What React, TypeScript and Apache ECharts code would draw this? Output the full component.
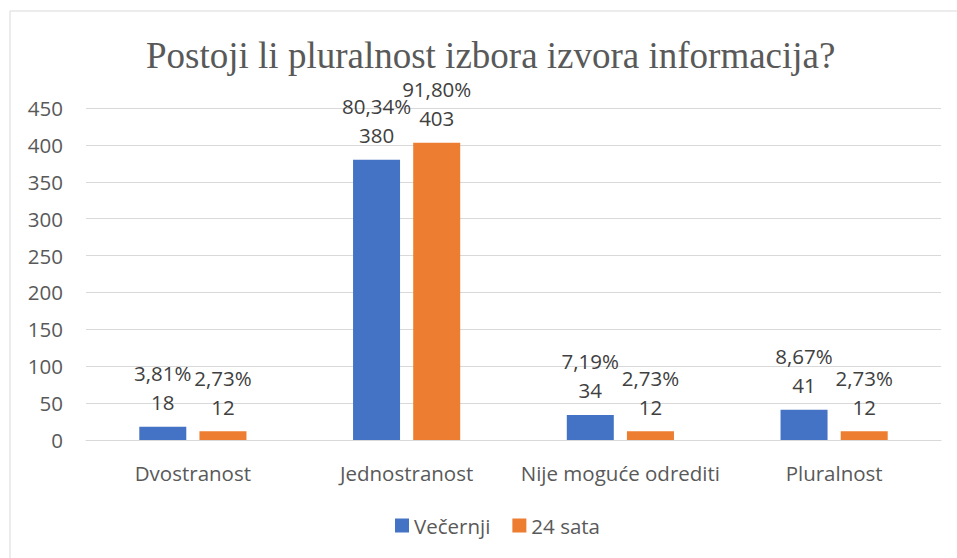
import React, { useEffect, useRef } from "react";
import * as echarts from "echarts";

const categories = ["Dvostranost", "Jednostranost", "Nije moguće odrediti", "Pluralnost"];
const seriesNames = ["Večernji", "24 sata"];
const vecernjiValues = [18, 380, 34, 41];
const sataValues = [12, 403, 12, 12];
const vecernjiPercents = ["3,81%", "80,34%", "7,19%", "8,67%"];
const sataPercents = ["2,73%", "91,80%", "2,73%", "2,73%"];
const titleText = "Postoji li pluralnost izbora izvora informacija?";

const FONT = "'Open Sans', sans-serif";
const FS = 20.5;

export default function App() {
  const ref = useRef<HTMLDivElement>(null);
  useEffect(() => {
    document.body.style.margin = "0";
    if (!ref.current) return;
    const chart = echarts.init(ref.current, null, { renderer: "svg" });
    const labelFor = (pcts: string[]) => ({
      show: true,
      position: "top" as const,
      distance: 10,
      color: "#404040",
      fontFamily: FONT,
      fontSize: FS,
      lineHeight: 29,
      formatter: (p: any) => `${pcts[p.dataIndex]}\n${p.value}`,
    });
    chart.setOption({
      animation: false,
      backgroundColor: "#ffffff",
      title: {
        text: titleText,
        left: 141,
        top: 32,
        textStyle: {
          fontFamily: "'Liberation Serif', 'Times New Roman', serif",
          fontSize: 37,
          fontWeight: "normal",
          color: "#595959",
        },
      },
      graphic: [
        {
          type: "rect",
          shape: { x: 10, y: 11, width: 980, height: 600 },
          style: { fill: "none", stroke: "#d9d9d9", lineWidth: 1 },
          silent: true,
        },
      ],
      legend: {
        data: seriesNames,
        bottom: 17,
        left: 390,
        icon: "rect",
        itemWidth: 14,
        itemHeight: 14,
        itemGap: 22,
        textStyle: { fontFamily: FONT, fontSize: FS, color: "#595959" },
      },
      grid: { left: 86, right: 16, top: 108, bottom: 118 },
      xAxis: {
        type: "category",
        data: categories,
        axisTick: { show: false },
        axisLine: { lineStyle: { color: "#d9d9d9", width: 1 } },
        axisLabel: {
          interval: 0,
          fontFamily: FONT,
          fontSize: FS,
          lineHeight: 24,
          color: "#595959",
          margin: 21,
        },
      },
      yAxis: {
        type: "value",
        min: 0,
        max: 450,
        interval: 50,
        axisLine: { show: false },
        axisTick: { show: false },
        splitLine: { lineStyle: { color: "#d9d9d9", width: 1 } },
        axisLabel: {
          fontFamily: FONT,
          fontSize: FS,
          color: "#595959",
          margin: 23,
        },
      },
      series: [
        {
          name: seriesNames[0],
          type: "bar",
          data: vecernjiValues,
          barWidth: 47,
          barGap: "28%",
          itemStyle: { color: "#4472C4" },
          label: labelFor(vecernjiPercents),
        },
        {
          name: seriesNames[1],
          type: "bar",
          data: sataValues,
          barWidth: 47,
          barGap: "28%",
          itemStyle: { color: "#ED7D31" },
          label: labelFor(sataPercents),
        },
      ],
    });
    return () => chart.dispose();
  }, []);
  return <div ref={ref} style={{ width: 957, height: 558 }} />;
}
